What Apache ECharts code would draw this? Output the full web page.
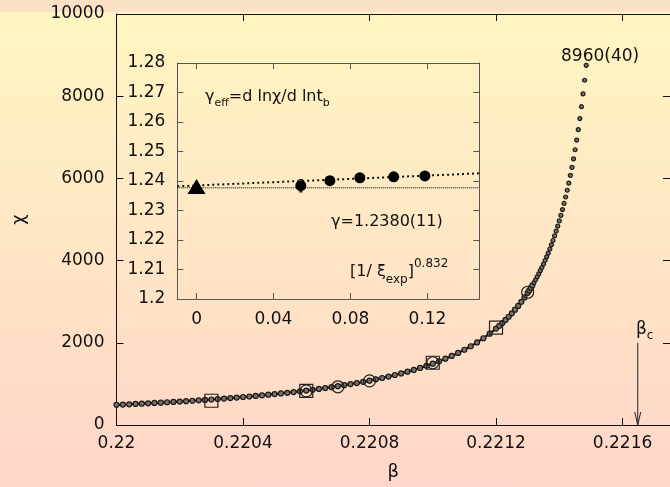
<!DOCTYPE html>
<html>
<head>
<meta charset="utf-8">
<script src="https://cdn.jsdelivr.net/npm/echarts@6/dist/echarts.min.js"></script>
<style>
  html, body { margin: 0; padding: 0; }
  #main {
    width: 670px;
    height: 487px;
    background: linear-gradient(to bottom, #fbe1c5 0px, #fbe1c5 12px, #fff6c1 12px, #ffd5c9 487px);
  }
</style>
</head>
<body>
<div id="main"></div>
<script>
// susceptibility chi vs beta (dotted chain of MC points)
const chiCurve = [
  [0.22000, 490], [0.22002, 497], [0.22004, 504], [0.22006, 512], [0.22008, 520],
  [0.22010, 528], [0.22012, 536], [0.22014, 544], [0.22016, 553], [0.22018, 562],
  [0.22020, 571], [0.22022, 580], [0.22024, 590], [0.22026, 600], [0.22028, 611],
  [0.22030, 621], [0.22032, 633], [0.22034, 644], [0.22036, 656], [0.22038, 668],
  [0.22040, 681], [0.22042, 694], [0.22044, 708], [0.22046, 722], [0.22048, 737],
  [0.22050, 752], [0.22052, 768], [0.22054, 784], [0.22056, 801], [0.22058, 819],
  [0.22060, 838], [0.22062, 857], [0.22064, 878], [0.22066, 899], [0.22068, 921],
  [0.22070, 945], [0.22072, 969], [0.22074, 995], [0.22076, 1021], [0.22078, 1050],
  [0.22080, 1079], [0.22082, 1111], [0.22084, 1144], [0.22086, 1179], [0.22088, 1216],
  [0.22090, 1255], [0.22092, 1297], [0.22094, 1341], [0.22096, 1388], [0.22098, 1439],
  [0.22100, 1493], [0.22102, 1551], [0.22104, 1613], [0.22106, 1680], [0.22108, 1753],
  [0.22110, 1831], [0.22112, 1916], [0.22114, 2009], [0.22116, 2111], [0.22118, 2222],
  [0.22120, 2346], [0.22121, 2412], [0.22122, 2482], [0.22123, 2556], [0.22124, 2634],
  [0.22125, 2717], [0.22126, 2805], [0.22127, 2898], [0.22128, 2997], [0.22129, 3103],
  [0.22130, 3216], [0.221305, 3275], [0.22131, 3336], [0.221315, 3400], [0.22132, 3465],
  [0.221325, 3534], [0.22133, 3604], [0.221335, 3678], [0.22134, 3754], [0.221345, 3833],
  [0.22135, 3916], [0.221355, 4002], [0.22136, 4091], [0.221365, 4184], [0.22137, 4282],
  [0.221375, 4383], [0.22138, 4489], [0.221385, 4600], [0.22139, 4716], [0.221395, 4838],
  [0.22140, 4966], [0.221405, 5100], [0.22141, 5241], [0.221415, 5390], [0.22142, 5547],
  [0.221425, 5712], [0.22143, 5887], [0.221435, 6072], [0.22144, 6267], [0.221445, 6476],
  [0.22145, 6697], [0.221455, 6933], [0.22146, 7185], [0.221465, 7455], [0.22147, 7744],
  [0.221475, 8055], [0.22148, 8388], [0.221485, 8751]
];
// the solid fit line stops here
const fitEndBeta = 0.22132;

// open squares and open circles
const squareBeta = [0.2203, 0.2206, 0.2210, 0.2212];
const squareChi = [590, 830, 1515, 2370];
const circleBeta = [0.2206, 0.2207, 0.2208, 0.2210, 0.2213];
const circleChi = [830, 930, 1075, 1515, 3230];

// critical point arrow
const betaC = 0.221648;
const betaCArrowTop = 2000;

// inset: gamma_eff vs [1/xi]^0.832
const effX = [0.0542, 0.0693, 0.0849, 0.1025, 0.1187];
const effY = [1.2384, 1.2401, 1.2411, 1.2414, 1.2417];
const effErr = [0.0021, 0.0012, 0.0012, 0.0012, 0.0012];
const gammaX = [0];
const gammaY = [1.2381];
const gammaLine = 1.2377;
const fitEnds = [[-0.01, 1.2382], [0.147, 1.2426]];

const mainXTicks = { min: 0.22, max: 0.22175, interval: 0.0004 };
const insetXTicks = [0, 0.04, 0.08, 0.12];

const FONT = 'DejaVu Sans';
const INK = '#111';

const chart = echarts.init(document.getElementById('main'));

const tickStyle = (c) => ({ show: true, inside: true, length: 7, lineStyle: { color: c, width: 1 } });
const lineStyleAxis = (c) => ({ show: true, onZero: false, lineStyle: { color: c, width: 1 } });
const labelStyle = { fontFamily: FONT, fontSize: 17, color: INK };

const option = {
  animation: false,
  backgroundColor: 'transparent',
  grid: [
    { left: 116.5, top: 14, width: 557, height: 411 },
    { left: 177.3, top: 63, width: 302, height: 236 }
  ],
  xAxis: [
    {
      gridIndex: 0, type: 'value', position: 'bottom',
      min: mainXTicks.min, max: mainXTicks.max, interval: mainXTicks.interval,
      axisLine: lineStyleAxis('#111'),
      axisTick: tickStyle('#111'),
      axisLabel: Object.assign({ margin: 10, showMaxLabel: false,
        formatter: (v) => String(+v.toFixed(4)) }, labelStyle),
      splitLine: { show: false },
      name: 'β', nameLocation: 'middle', nameGap: 38,
      nameTextStyle: { fontFamily: FONT, fontSize: 18, color: INK }
    },
    {
      gridIndex: 0, type: 'value', position: 'top',
      min: mainXTicks.min, max: mainXTicks.max, interval: mainXTicks.interval,
      axisLine: lineStyleAxis('#111'),
      axisTick: tickStyle('#111'),
      axisLabel: { show: false },
      splitLine: { show: false }
    },
    {
      gridIndex: 1, type: 'value', position: 'bottom',
      min: -0.01, max: 0.147,
      axisLine: lineStyleAxis('#555'),
      axisTick: Object.assign(tickStyle('#555'), { length: 6, customValues: insetXTicks }),
      axisLabel: Object.assign({ margin: 12, customValues: insetXTicks,
        formatter: (v) => String(+v.toFixed(2)) }, labelStyle),
      splitLine: { show: false }
    },
    {
      gridIndex: 1, type: 'value', position: 'top',
      min: -0.01, max: 0.147,
      axisLine: lineStyleAxis('#555'),
      axisTick: Object.assign(tickStyle('#555'), { length: 6, customValues: insetXTicks }),
      axisLabel: { show: false },
      splitLine: { show: false }
    }
  ],
  yAxis: [
    {
      gridIndex: 0, type: 'value', position: 'left',
      min: 0, max: 10000, interval: 2000,
      axisLine: lineStyleAxis('#111'),
      axisTick: tickStyle('#111'),
      axisLabel: Object.assign({ margin: 12, formatter: (v) => String(v) }, labelStyle),
      splitLine: { show: false },
      name: 'χ', nameLocation: 'middle', nameGap: 88, nameRotate: 90,
      nameTextStyle: { fontFamily: FONT, fontSize: 18, color: INK }
    },
    {
      gridIndex: 0, type: 'value', position: 'right',
      min: 0, max: 10000, interval: 2000,
      axisLine: lineStyleAxis('#111'),
      axisTick: tickStyle('#111'),
      axisLabel: { show: false },
      splitLine: { show: false }
    },
    {
      gridIndex: 1, type: 'value', position: 'left',
      min: 1.2, max: 1.28, interval: 0.01,
      axisLine: lineStyleAxis('#555'),
      axisTick: Object.assign(tickStyle('#555'), { length: 6 }),
      axisLabel: Object.assign({ margin: 12,
        formatter: (v) => String(+v.toFixed(2)) }, labelStyle),
      splitLine: { show: false }
    },
    {
      gridIndex: 1, type: 'value', position: 'right',
      min: 1.2, max: 1.28, interval: 0.01,
      axisLine: lineStyleAxis('#555'),
      axisTick: Object.assign(tickStyle('#555'), { length: 6 }),
      axisLabel: { show: false },
      splitLine: { show: false }
    }
  ],
  series: [
    {
      name: 'fit', type: 'line', xAxisIndex: 0, yAxisIndex: 0,
      data: chiCurve.filter((p) => p[0] <= fitEndBeta),
      showSymbol: false, smooth: false,
      lineStyle: { color: '#111', width: 2.2 }, z: 2
    },
    {
      name: 'chi', type: 'scatter', xAxisIndex: 0, yAxisIndex: 0,
      data: chiCurve, symbol: 'circle',
      // dots get smaller where they stand apart on the steep part
      symbolSize: (v) => (v[1] > 3400 ? 4 : 5),
      itemStyle: { color: '#7a7266', borderColor: '#1a1a1a', borderWidth: 1.2, opacity: 1 }, z: 3
    },
    {
      name: 'squares', type: 'scatter', xAxisIndex: 0, yAxisIndex: 0,
      data: squareBeta.map((b, i) => [b, squareChi[i]]), symbol: 'rect', symbolSize: 13,
      itemStyle: { color: 'rgba(0,0,0,0)', borderColor: '#222', borderWidth: 1.2, opacity: 1 }, z: 4
    },
    {
      name: 'circles', type: 'scatter', xAxisIndex: 0, yAxisIndex: 0,
      data: circleBeta.map((b, i) => [b, circleChi[i]]), symbol: 'circle', symbolSize: 12,
      itemStyle: { color: 'rgba(0,0,0,0)', borderColor: '#222', borderWidth: 1.2, opacity: 1 }, z: 4
    },
    {
      name: 'betaC', type: 'custom', xAxisIndex: 0, yAxisIndex: 0,
      data: [[betaC, betaCArrowTop]],
      renderItem: (params, api) => {
        const top = api.coord([api.value(0), api.value(1)]);
        const bot = api.coord([api.value(0), 0]);
        return {
          type: 'group',
          children: [
            { type: 'line', shape: { x1: top[0], y1: top[1], x2: bot[0], y2: bot[1] },
              style: { stroke: '#222', lineWidth: 1 } },
            { type: 'polyline', shape: { points: [[bot[0] - 3, bot[1] - 13], [bot[0], bot[1]], [bot[0] + 3, bot[1] - 13]] },
              style: { stroke: '#222', lineWidth: 1, fill: null } }
          ]
        };
      }
    },
    {
      name: 'gammaLine', type: 'line', xAxisIndex: 2, yAxisIndex: 2,
      data: [[-0.01, gammaLine], [0.147, gammaLine]], showSymbol: false,
      lineStyle: { color: '#222', width: 1.2, type: [1, 1] }, z: 2
    },
    {
      name: 'effFit', type: 'line', xAxisIndex: 2, yAxisIndex: 2,
      data: fitEnds, showSymbol: false,
      lineStyle: { color: '#111', width: 2, type: [2, 3] }, z: 2
    },
    {
      name: 'effErr', type: 'custom', xAxisIndex: 2, yAxisIndex: 2,
      data: effX.map((x, i) => [x, effY[i], effErr[i]]),
      renderItem: (params, api) => {
        const x = api.value(0), y = api.value(1), e = api.value(2);
        const lo = api.coord([x, y - e]);
        const hi = api.coord([x, y + e]);
        const st = { stroke: '#111', lineWidth: 1 };
        return {
          type: 'group',
          children: [
            { type: 'line', shape: { x1: lo[0], y1: lo[1], x2: hi[0], y2: hi[1] }, style: st },
            { type: 'line', shape: { x1: lo[0] - 2, y1: lo[1], x2: lo[0] + 2, y2: lo[1] }, style: st },
            { type: 'line', shape: { x1: hi[0] - 2, y1: hi[1], x2: hi[0] + 2, y2: hi[1] }, style: st }
          ]
        };
      },
      z: 3
    },
    {
      name: 'eff', type: 'scatter', xAxisIndex: 2, yAxisIndex: 2,
      data: effX.map((x, i) => [x, effY[i]]), symbol: 'circle', symbolSize: 11,
      itemStyle: { color: '#000', opacity: 1 }, z: 4
    },
    {
      name: 'gamma', type: 'scatter', xAxisIndex: 2, yAxisIndex: 2,
      data: gammaX.map((x, i) => [x, gammaY[i]]), symbol: 'triangle', symbolSize: [18, 15],
      itemStyle: { color: '#000', opacity: 1 }, z: 4
    }
  ],
  graphic: [
    {
      type: 'text', x: 205, y: 97, z: 100,
      style: {
        text: '{m|γ}{s|eff}{m|=d lnχ/d lnt}{s|b}',
        verticalAlign: 'middle', align: 'left',
        rich: {
          m: { fontFamily: FONT, fontSize: 16, lineHeight: 24, verticalAlign: 'middle', fill: INK },
          s: { fontFamily: FONT, fontSize: 11, lineHeight: 12, verticalAlign: 'bottom', fill: INK }
        }
      }
    },
    {
      type: 'text', x: 331, y: 222, z: 100,
      style: { text: 'γ=1.2380(11)', fontFamily: FONT, fontSize: 16, fill: INK,
        verticalAlign: 'middle', align: 'left' }
    },
    {
      type: 'text', x: 350, y: 272, z: 100,
      style: {
        text: '{m|[1/ ξ}{s|exp}{m|]}{p|0.832}',
        verticalAlign: 'middle', align: 'left',
        rich: {
          m: { fontFamily: FONT, fontSize: 16, lineHeight: 28, verticalAlign: 'middle', fill: INK },
          s: { fontFamily: FONT, fontSize: 12, lineHeight: 12, verticalAlign: 'bottom', fill: INK },
          p: { fontFamily: FONT, fontSize: 12, lineHeight: 12, verticalAlign: 'top', fill: INK }
        }
      }
    },
    {
      type: 'text', x: 561, y: 57, z: 100,
      style: { text: '8960(40)', fontFamily: FONT, fontSize: 17, fill: INK,
        verticalAlign: 'middle', align: 'left' }
    },
    {
      type: 'text', x: 636, y: 330, z: 100,
      style: {
        text: '{m|β}{s|c}',
        verticalAlign: 'middle', align: 'left',
        rich: {
          m: { fontFamily: FONT, fontSize: 17, lineHeight: 24, verticalAlign: 'middle', fill: INK },
          s: { fontFamily: FONT, fontSize: 12, lineHeight: 12, verticalAlign: 'bottom', fill: INK }
        }
      }
    }
  ]
};

chart.setOption(option);
</script>
</body>
</html>
